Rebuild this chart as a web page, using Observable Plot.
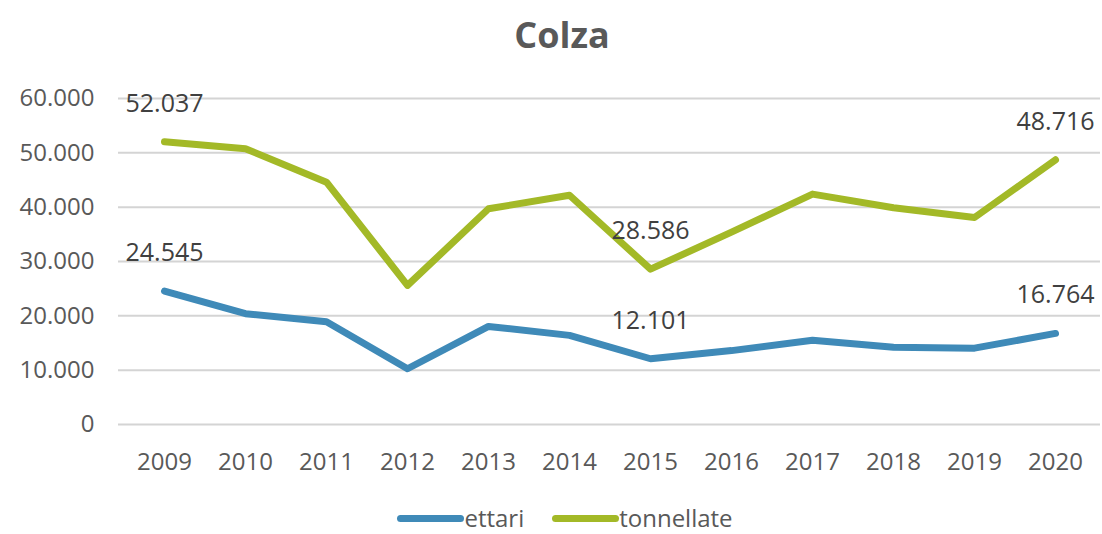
<!DOCTYPE html>
<html>
<head>
<meta charset="utf-8">
<script src="https://cdn.jsdelivr.net/npm/d3@7"></script>
<script src="https://cdn.jsdelivr.net/npm/@observablehq/plot@0.6"></script>
<style>
  html, body { margin: 0; padding: 0; background: #fff; }
  body { width: 1102px; height: 534px; overflow: hidden; font-family: "Open Sans", sans-serif; }
  #title { height: 70px; line-height: 70px; text-align: center; font-weight: bold; font-size: 36px; color: #595959; padding-left: 22px; box-sizing: border-box; }
  #chart svg { display: block; }
  #legend { height: 54px; display: flex; justify-content: center; align-items: center; font-size: 24px; line-height: 32px; color: #595959; padding-left: 28px; padding-top: 22px; box-sizing: border-box; }
  .item { display: flex; align-items: center; margin: 0 14px; height: 32px; }
  .sw { width: 67px; height: 7px; border-radius: 4px; display: inline-block; }
</style>
</head>
<body>
<div id="title">Colza</div>
<div id="chart"></div>
<div id="legend"></div>
<script>
const years = [2009, 2010, 2011, 2012, 2013, 2014, 2015, 2016, 2017, 2018, 2019, 2020];
const ettari = [24545, 20400, 18900, 10260, 18050, 16400, 12101, 13600, 15500, 14200, 14050, 16764];
const tonnellate = [52037, 50770, 44600, 25600, 39700, 42200, 28586, 35400, 42400, 39900, 38100, 48716];
const labeledYears = [2009, 2015, 2020];
const yTicks = [0, 10000, 20000, 30000, 40000, 50000, 60000];
const seriesNames = ["ettari", "tonnellate"];
const seriesColors = ["#3f8ab8", "#a3b927"];

const it = d3.formatLocale({decimal: ",", thousands: ".", grouping: [3], currency: ["", " €"]});
const fmt = it.format(",");

const data = [];
years.forEach((y, i) => {
  data.push({year: y, value: ettari[i], serie: "ettari"});
  data.push({year: y, value: tonnellate[i], serie: "tonnellate"});
});
const labels = data.filter(d => labeledYears.includes(d.year));

const chart = Plot.plot({
  width: 1102,
  height: 410,
  marginTop: 28,
  marginBottom: 56,
  marginLeft: 118,
  marginRight: 2,
  style: {fontFamily: "Open Sans, sans-serif", background: "#fff"},
  x: {type: "point", domain: years, padding: 0.49},
  y: {domain: [0, 60000]},
  color: {domain: seriesNames, range: seriesColors},
  marks: [
    Plot.ruleY(yTicks, {stroke: "#d4d4d4", strokeWidth: 2}),
    Plot.axisY(yTicks, {tickSize: 0, tickPadding: 24, fontSize: 24, fill: "#595959", tickFormat: fmt, label: null}),
    Plot.axisX(years, {tickSize: 0, tickPadding: 28, fontSize: 24, fill: "#595959", tickFormat: d => String(d), label: null}),
    Plot.line(data, {x: "year", y: "value", z: "serie", stroke: "serie", strokeWidth: 7, strokeLinejoin: "round", strokeLinecap: "round"}),
    Plot.text(labels, {x: "year", y: "value", text: d => fmt(d.value), dy: -38, fontSize: 25, fill: "#404040"})
  ]
});
document.getElementById("chart").appendChild(chart);

const legend = document.getElementById("legend");
seriesNames.forEach((n, i) => {
  const item = document.createElement("div");
  item.className = "item";
  const sw = document.createElement("span");
  sw.className = "sw";
  sw.style.background = seriesColors[i];
  const t = document.createElement("span");
  t.textContent = n;
  item.appendChild(sw);
  item.appendChild(t);
  legend.appendChild(item);
});
</script>
</body>
</html>
